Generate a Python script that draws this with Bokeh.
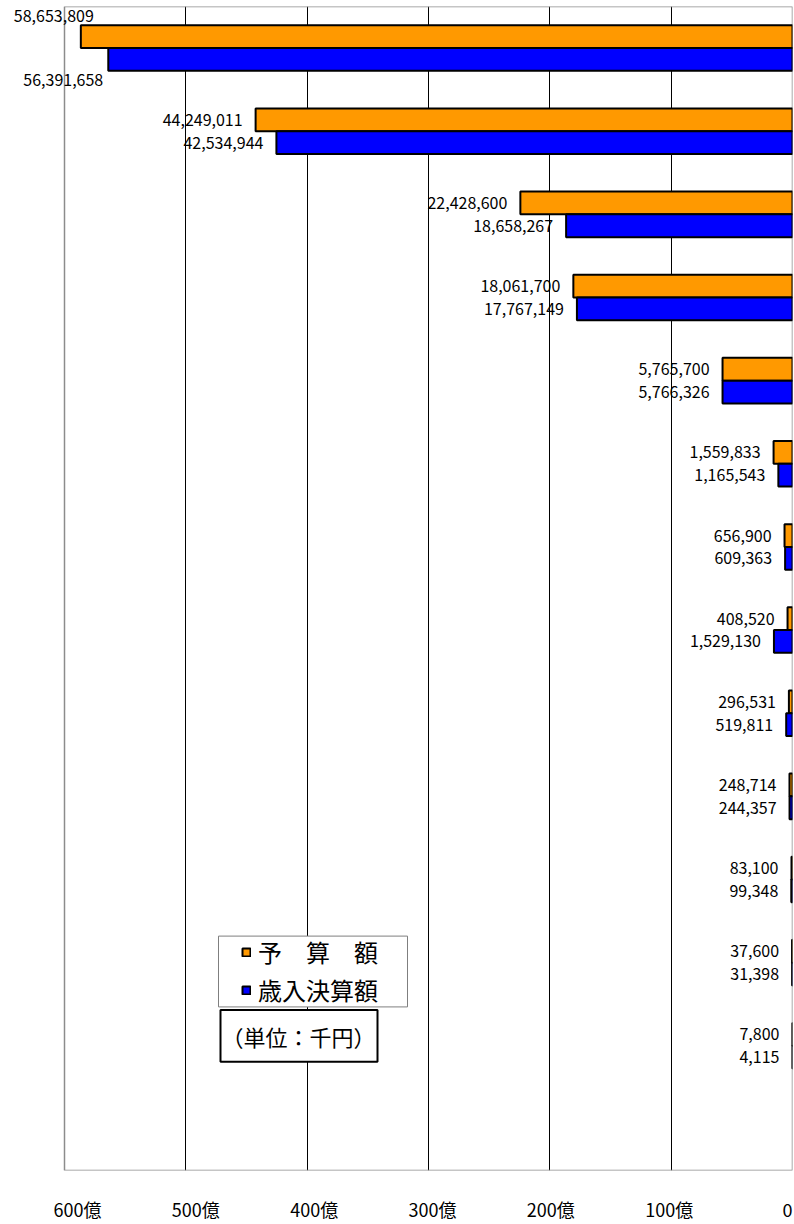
from bokeh.plotting import figure
from bokeh.models import (Range1d, FixedTicker, LabelSet, ColumnDataSource, Legend,
                          LegendItem, BoxAnnotation, Label)
from bokeh.core.properties import value
from bokeh.embed import file_html
from bokeh.resources import INLINE

# ---- data (unit: 千円) ----
budget = [58653809, 44249011, 22428600, 18061700, 5765700, 1559833, 656900,
          408520, 296531, 248714, 83100, 37600, 7800]
revenue = [56391658, 42534944, 18658267, 17767149, 5766326, 1165543, 609363,
           1529130, 519811, 244357, 99348, 31398, 4115]
x_ticks = [0, 100, 200, 300, 400, 500, 600]          # 億円
x_tick_labels = ["0", "100億", "200億", "300億", "400億", "500億", "600億"]
series_names = ["予　算　額", "歳入決算額"]
unit_text = "（単位：千円）"

ORANGE = "#FF9900"
BLUE = "#0000FF"
FONT = "Noto Sans CJK JP"

n = len(budget)
slots = n + 1
oku = 100000.0  # 千円 -> 億円
half = 0.137

# layout geometry (page pixels)
W, H = 794, 1224
BOX_L, FR, FT, FB = 64, 792, 6, 1173      # visible plot box
scale = (FR - BOX_L) / 600.0                # px per 億
x_start = FR / scale                        # frame spans from page x=0
# the original's tick labels sit on a slightly compressed spacing
LBL_SHIFT, LBL_SQUEEZE = 4.1, 0.9753

def dx(px):
    return (FR - px) / scale
def dy(py):
    return slots * (FB - py) / (FB - FT)

yc = [slots - i - 0.5 for i in range(n)]
src_b = ColumnDataSource(dict(
    x=[v / oku for v in budget], y=[c + half for c in yc],
    t=[f"{v:,}" for v in budget]))
src_r = ColumnDataSource(dict(
    x=[v / oku for v in revenue], y=[c - half for c in yc],
    t=[f"{v:,}" for v in revenue]))

p = figure(width=W, height=H, x_range=Range1d(x_start, 0), y_range=Range1d(0, slots),
           output_backend="svg", toolbar_location=None, y_axis_location=None,
           min_border_left=0, min_border_right=W - FR, min_border_top=FT,
           min_border_bottom=H - FB)
p.background_fill_color = "white"
p.border_fill_color = "white"
p.outline_line_color = None

p.ygrid.visible = False
p.xgrid.ticker = FixedTicker(ticks=[t for t in x_ticks if 0 < t < 600])
p.xgrid.grid_line_color = "black"
p.xgrid.grid_line_width = 1

label_pos = [LBL_SHIFT + LBL_SQUEEZE * t for t in x_ticks]
ax = p.xaxis[0]
ax.ticker = FixedTicker(ticks=label_pos)
ax.major_label_overrides = {pos: l for pos, l in zip(label_pos, x_tick_labels)}
ax.axis_line_color = None
ax.major_tick_line_color = None
ax.minor_tick_line_color = None
ax.major_tick_out = 0
ax.major_tick_in = 0
ax.major_label_standoff = 25
ax.major_label_text_font = FONT
ax.major_label_text_font_size = "18px"
ax.major_label_text_color = "black"

# visible plot-area border
p.add_layout(BoxAnnotation(left=600, right=0, bottom=0, top=slots, fill_alpha=0,
                           line_color="#8c8c8c", line_alpha=1, line_width=1.5,
                           level="underlay"))

r1 = p.hbar(y="y", right="x", left=0, height=2 * half, source=src_b,
            fill_color=ORANGE, line_color="black", line_width=2)
r2 = p.hbar(y="y", right="x", left=0, height=2 * half, source=src_r,
            fill_color=BLUE, line_color="black", line_width=2)

# data labels (first group placed above / below its bars)
def sub(src, idx):
    d = src.data
    return ColumnDataSource({k: [d[k][i] for i in idx] for k in d})

LBL = dict(text_baseline="middle", text_font=value(FONT),
           text_font_size=value("16px"), text_color="black")
rest = list(range(1, n))
for s in (src_b, src_r):
    p.add_layout(LabelSet(x="x", y="y", text="t", source=sub(s, rest), x_offset=-13,
                          text_align="right", **LBL))
p.add_layout(LabelSet(x="x", y="y", text="t", source=sub(src_b, [0]), x_offset=-27,
                      y_offset=21, text_align="center", **LBL))
p.add_layout(LabelSet(x="x", y="y", text="t", source=sub(src_r, [0]), x_offset=-45,
                      y_offset=-21, text_align="center", **LBL))

# legend box + legend
p.add_layout(BoxAnnotation(left=dx(218), right=dx(407), top=dy(938), bottom=dy(1009),
                           fill_color="white", fill_alpha=1, line_color="#7f7f7f",
                           line_alpha=1, line_width=1))
legend = Legend(items=[LegendItem(label=series_names[0], renderers=[r1]),
                       LegendItem(label=series_names[1], renderers=[r2])],
                location=(241, FB - 1010), padding=0, margin=0, spacing=3,
                label_height=30, glyph_height=10, glyph_width=10, label_standoff=7,
                border_line_alpha=0, background_fill_alpha=0,
                label_text_font=FONT, label_text_font_size="24px",
                label_text_color="black")
p.add_layout(legend)

# unit box
p.add_layout(BoxAnnotation(left=dx(220), right=dx(377), top=dy(1012), bottom=dy(1064),
                           fill_color="white", fill_alpha=1, line_color="black",
                           line_alpha=1, line_width=2))
p.add_layout(Label(x=dx(298), y=dy(1038), text=unit_text, text_align="center",
                   text_baseline="middle", text_font=FONT, text_font_size="22px",
                   text_color="black"))

open("out.html", "w").write(file_html(p, INLINE))
